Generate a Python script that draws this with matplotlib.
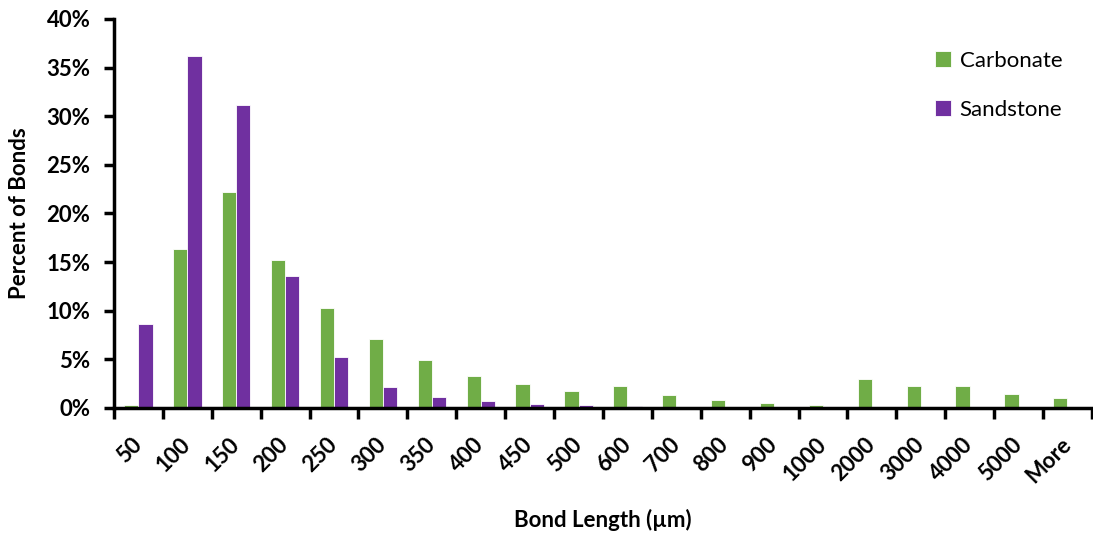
import numpy as np
import matplotlib
matplotlib.use("Agg")
import matplotlib.pyplot as plt
from matplotlib.ticker import FuncFormatter
from matplotlib.transforms import ScaledTranslation

plt.rcParams['font.family'] = ['Lato', 'DejaVu Sans']

# bins of bond length (um)
categorias = ["50", "100", "150", "200", "250", "300", "350", "400", "450", "500",
              "600", "700", "800", "900", "1000", "2000", "3000", "4000", "5000", "More"]
# percent of bonds per bin
carbonato = [0.3, 16.4, 22.2, 15.2, 10.3, 7.1, 4.9, 3.3, 2.5, 1.7,
             2.3, 1.3, 0.8, 0.5, 0.35, 3.0, 2.3, 2.3, 1.4, 1.05]
arenisca = [8.6, 36.2, 31.2, 13.6, 5.2, 2.2, 1.1, 0.75, 0.4, 0.3,
            0.25, 0, 0, 0, 0, 0, 0, 0, 0, 0]

verde = "#70AD47"
morado = "#7030A0"

fig = plt.figure(figsize=(10.93, 5.35), dpi=100)
ax = fig.add_axes([0.1043, 0.2374, 0.8947, 0.7271])

x = np.arange(len(categorias))
ancho = 0.29
ax.bar(x - ancho / 2, carbonato, ancho, color=verde, edgecolor="white", linewidth=0.6, label="Carbonate")
ax.bar(x + ancho / 2, arenisca, ancho, color=morado, edgecolor="white", linewidth=0.6, label="Sandstone")

ax.set_xlim(-0.5, len(categorias) - 0.5)
ax.set_ylim(0, 40)
ax.set_yticks(np.arange(0, 41, 5))
ax.yaxis.set_major_formatter(FuncFormatter(lambda v, p: "%d%%" % v))

# ticks on category boundaries, labels at centers
ax.set_xticks(np.arange(-0.5, len(categorias), 1))
ax.set_xticklabels([])
ax.set_xticks(x, minor=True)
ax.set_xticklabels(categorias, minor=True, rotation=45, ha="right", va="center",
                   rotation_mode="anchor", fontsize=16, fontweight="bold")
desplaza = ScaledTranslation(0.11, 0, fig.dpi_scale_trans)
for lab in ax.get_xticklabels(minor=True):
    lab.set_transform(lab.get_transform() + desplaza)
ax.tick_params(axis="x", which="minor", length=0, pad=24)
ax.tick_params(axis="x", which="major", direction="out", length=8, width=2.5)
ax.tick_params(axis="y", direction="out", length=7, width=2.5, labelsize=16, pad=10)
for lab in ax.get_yticklabels():
    lab.set_fontweight("bold")

for lado in ["top", "right"]:
    ax.spines[lado].set_visible(False)
for lado in ["left", "bottom"]:
    ax.spines[lado].set_linewidth(2.5)

ax.set_xlabel("Bond Length (µm)", fontsize=16, fontweight="bold", labelpad=16)
ax.set_ylabel("Percent of Bonds", fontsize=16, fontweight="bold", labelpad=12)

ax.legend(loc="upper right", bbox_to_anchor=(0.99, 0.97), frameon=False, fontsize=16,
          handlelength=0.7, handleheight=0.7, handletextpad=0.4, labelspacing=1.3)

fig.savefig("out.png", dpi=100)
